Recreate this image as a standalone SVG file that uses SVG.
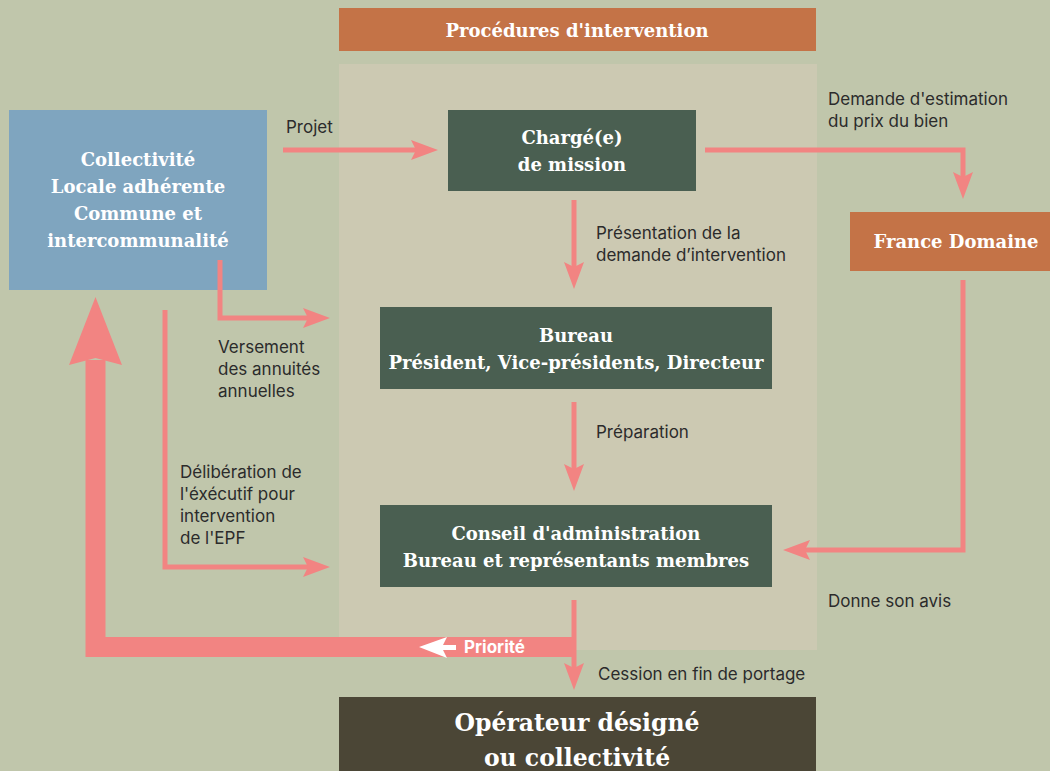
<svg xmlns="http://www.w3.org/2000/svg" width="1050" height="771" viewBox="0 0 1050 771">
<defs>
<style>
.bg{fill:#c0c6ab}
.panel{fill:#ccc9b2}
.serif{font-family:"DejaVu Serif","Liberation Serif",serif;font-weight:bold;fill:#ffffff;text-anchor:middle}
.lbl{font-family:Inter,Roboto,"Liberation Sans",sans-serif;font-size:17px;fill:#2b2b2b}
.conn{fill:none;stroke:#f28482;stroke-width:5}
.green{fill:#4a5f51}
</style>
<marker id="ah" viewBox="-8 -11 29 22" markerWidth="29" markerHeight="22" refX="0" refY="0" orient="auto" markerUnits="userSpaceOnUse">
<path d="M20,0 L-7,-10 L-2,0 L-7,10 Z" fill="#f28482"/>
</marker>
</defs>
<rect class="bg" x="0" y="0" width="1050" height="771"/>
<rect class="panel" x="339" y="64" width="478" height="586"/>

<g id="header">
<rect x="339" y="8" width="477" height="43" fill="#c47347"/>
<text class="serif" x="577" y="37" font-size="18">Procédures d'intervention</text>
</g>

<g id="collectivite">
<rect x="9" y="110" width="258" height="180" fill="#7fa5bf"/>
<text class="serif" x="138" y="166" font-size="18">Collectivité</text>
<text class="serif" x="138" y="193" font-size="18">Locale adhérente</text>
<text class="serif" x="138" y="220" font-size="18">Commune et</text>
<text class="serif" x="138" y="247" font-size="18">intercommunalité</text>
</g>

<g id="charge">
<rect class="green" x="448" y="110" width="248" height="81"/>
<text class="serif" x="572" y="144" font-size="18">Chargé(e)</text>
<text class="serif" x="572" y="171" font-size="18">de mission</text>
</g>

<g id="france-domaine">
<rect x="850" y="212" width="200" height="59" fill="#c47347"/>
<text class="serif" x="956" y="248" font-size="18">France Domaine</text>
</g>

<g id="bureau">
<rect class="green" x="380" y="307" width="392" height="82"/>
<text class="serif" x="576" y="342" font-size="18">Bureau</text>
<text class="serif" x="576" y="369" font-size="18">Président, Vice-présidents, Directeur</text>
</g>

<g id="conseil">
<rect class="green" x="380" y="505" width="392" height="82"/>
<text class="serif" x="576" y="540" font-size="18">Conseil d'administration</text>
<text class="serif" x="576" y="567" font-size="18">Bureau et représentants membres</text>
</g>

<g id="operateur">
<rect x="339" y="697" width="477" height="80" fill="#4b4636"/>
<text class="serif" x="577" y="731" font-size="23.5">Opérateur désigné</text>
<text class="serif" x="577" y="766" font-size="23.5">ou collectivité</text>
</g>

<g id="connectors">
<path class="conn" d="M283,150 H418" marker-end="url(#ah)"/>
<path class="conn" d="M705,150 H963 V179" marker-end="url(#ah)"/>
<path class="conn" d="M574,200 V269" marker-end="url(#ah)"/>
<path class="conn" d="M574,402 V471" marker-end="url(#ah)"/>
<path class="conn" d="M963,280 V550 H803" marker-end="url(#ah)"/>
<path class="conn" d="M220,260 V318 H310" marker-end="url(#ah)"/>
<path class="conn" d="M165,310 V567 H310" marker-end="url(#ah)"/>
<path d="M574,647 H95.5 V360" fill="none" stroke="#f28482" stroke-width="20"/>
<polygon points="95.5,297 122,365 95.5,358 69,365" fill="#f28482"/>
<path class="conn" d="M574,600 V670" marker-end="url(#ah)"/>
<polygon points="419,647 447,637 443,645 456,645 456,650 443,650 447,658" fill="#ffffff"/>
<text x="464" y="648" font-family="Inter,Roboto,'Liberation Sans',sans-serif" font-size="17" font-weight="bold" fill="#ffffff" dominant-baseline="middle">Priorité</text>
</g>

<g id="labels">
<text class="lbl" x="286" y="133">Projet</text>
<text class="lbl" x="828" y="105">Demande d'estimation</text>
<text class="lbl" x="828" y="127">du prix du bien</text>
<text class="lbl" x="596" y="239">Présentation de la</text>
<text class="lbl" x="596" y="261">demande d’intervention</text>
<text class="lbl" x="218" y="353">Versement</text>
<text class="lbl" x="218" y="375">des annuités</text>
<text class="lbl" x="218" y="397">annuelles</text>
<text class="lbl" x="596" y="438">Préparation</text>
<text class="lbl" x="180" y="478">Délibération de</text>
<text class="lbl" x="180" y="500">l'éxécutif pour</text>
<text class="lbl" x="180" y="522">intervention</text>
<text class="lbl" x="180" y="544">de l'EPF</text>
<text class="lbl" x="828" y="607">Donne son avis</text>
<text class="lbl" x="598" y="680">Cession en fin de portage</text>
</g>
</svg>
